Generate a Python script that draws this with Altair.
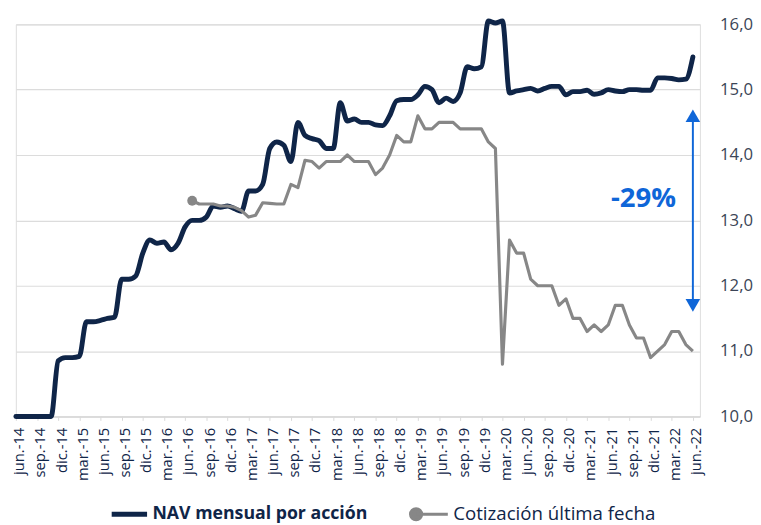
import altair as alt
import pandas as pd

# ---- data ----
month_names = ["ene.", "feb.", "mar.", "abr.", "may.", "jun.", "jul.", "ago.", "sep.", "oct.", "nov.", "dic."]

tick_labels = ["jun.-14", "sep.-14", "dic.-14", "mar.-15", "jun.-15", "sep.-15", "dic.-15",
               "mar.-16", "jun.-16", "sep.-16", "dic.-16", "mar.-17", "jun.-17", "sep.-17",
               "dic.-17", "mar.-18", "jun.-18", "sep.-18", "dic.-18", "mar.-19", "jun.-19",
               "sep.-19", "dic.-19", "mar.-20", "jun.-20", "sep.-20", "dic.-20", "mar.-21",
               "jun.-21", "sep.-21", "dic.-21", "mar.-22", "jun.-22"]

# NAV mensual por acción, jun-14 .. jun-22 (97 months)
nav = [10.0, 10.0, 10.0, 10.0, 10.0, 10.0, 10.85, 10.9, 10.9, 10.92,
       11.45, 11.45, 11.47, 11.5, 11.52, 12.1, 12.1, 12.15, 12.5, 12.7,
       12.65, 12.67, 12.55, 12.65, 12.9, 13.0, 13.0, 13.05, 13.22, 13.2,
       13.22, 13.18, 13.14, 13.45, 13.45, 13.55, 14.1, 14.2, 14.15, 13.9,
       14.5, 14.3, 14.25, 14.22, 14.1, 14.1, 14.8, 14.52, 14.55, 14.5,
       14.5, 14.46, 14.45, 14.6, 14.83, 14.85, 14.85, 14.92, 15.05, 15.0,
       14.8, 14.87, 14.82, 14.95, 15.35, 15.32, 15.35, 16.05, 16.02, 16.05,
       14.95, 14.98, 15.0, 15.02, 14.98, 15.02, 15.05, 15.05, 14.92, 14.97,
       14.97, 14.99, 14.93, 14.95, 15.0, 14.98, 14.97, 15.0, 15.0, 14.99,
       14.99, 15.18, 15.18, 15.17, 15.15, 15.16, 15.5]

# Cotización última fecha, from jul-16 (month index 25) to jun-22
cot_start = 25
cot = [13.3, 13.25, 13.25, 13.25, 13.22, 13.22, 13.2, 13.15, 13.05, 13.08,
       13.27, 13.26, 13.25, 13.25, 13.55, 13.5, 13.92, 13.9, 13.8, 13.9,
       13.9, 13.9, 14.0, 13.9, 13.9, 13.9, 13.7, 13.8, 14.0, 14.3,
       14.2, 14.2, 14.6, 14.4, 14.4, 14.5, 14.5, 14.5, 14.4, 14.4,
       14.4, 14.4, 14.2, 14.1, 10.8, 12.7, 12.5, 12.5, 12.1, 12.0,
       12.0, 12.0, 11.7, 11.8, 11.5, 11.5, 11.3, 11.4, 11.3, 11.4,
       11.7, 11.7, 11.4, 11.2, 11.2, 10.9, 11.0, 11.1, 11.3, 11.3,
       11.1, 11.0]

series_names = ["NAV mensual por acción", "Cotización última fecha"]

arrow_month = "jun.-22"
arrow_top = 14.6
arrow_bottom = 11.7
label_month = "nov.-21"
label_value = 13.32
label_text = "-29%"

# ---- build tables ----
labels = [f"{month_names[(5 + i) % 12]}-{14 + (5 + i) // 12:02d}" for i in range(len(nav) + 1)]
x_domain = labels  # includes one trailing month (jul.-22) as right-hand margin
df_nav = pd.DataFrame({"mes": labels[:len(nav)], "valor": nav, "serie": series_names[0]})
df_cot = pd.DataFrame({"mes": labels[cot_start:cot_start + len(cot)], "valor": cot,
                       "serie": series_names[1]})
df_arrow = pd.DataFrame({"mes": [arrow_month], "top": [arrow_top], "bottom": [arrow_bottom]})
df_label = pd.DataFrame({"mes": [label_month], "valor": [label_value], "txt": [label_text]})

NAVY = "#0f2548"
GREY = "#878787"
BLUE = "#0f66d8"
TEXT = "#3b4556"
FONT = "Open Sans"

x_scale = alt.Scale(type="point", domain=x_domain, padding=0)
x_enc = alt.X("mes:O", scale=x_scale,
              axis=alt.Axis(values=tick_labels, labelAngle=-90, grid=False, ticks=True,
                            tickSize=4, tickColor="#d9d9d9", domainColor="#d9d9d9",
                            domainWidth=1.5, labelColor=NAVY, labelFontSize=15,
                            labelFont=FONT, labelPadding=7, labelOverlap=False,
                            labelOffset=3, labelBound=False, title=None))
y_scale = alt.Scale(domain=[10, 16], nice=False, zero=False)
y_axis = alt.Axis(orient="right", values=[10, 11, 12, 13, 14, 15, 16],
                  labelExpr="replace(format(datum.value, '.1f'), '.', ',')",
                  grid=True, gridColor="#dcdcdc", gridWidth=1.2, domain=False, ticks=False,
                  labelColor=TEXT, labelFontSize=17, labelFont=FONT, labelPadding=20,
                  title=None)

nav_path = "M-1,0L1,0"
cot_path = "M-1,0A0.3,0.3 0 1,0 -0.4,0A0.3,0.3 0 1,0 -1,0ZM-0.7,0L1,0"

nav_line = alt.Chart(df_nav).mark_line(strokeWidth=5, interpolate="monotone",
                                       strokeCap="round", strokeJoin="round", clip=False).encode(
    x=x_enc,
    y=alt.Y("valor:Q", scale=y_scale, axis=y_axis),
    color=alt.Color("serie:N", scale=alt.Scale(domain=[series_names[0]], range=[NAVY]),
                    legend=alt.Legend(orient="none", legendX=95, legendY=478, title=None,
                                      symbolType=nav_path, symbolSize=1296,
                                      symbolStrokeWidth=5, symbolStrokeColor=NAVY,
                                      labelFontWeight="bold", labelFontSize=18, labelLimit=0,
                                      labelFont=FONT, labelColor=NAVY, labelOffset=3)),
)

cot_line = alt.Chart(df_cot).mark_line(strokeWidth=3.2, strokeJoin="round").encode(
    x=alt.X("mes:O", scale=x_scale),
    y="valor:Q",
    color=alt.Color("serie:N", scale=alt.Scale(domain=[series_names[1]], range=[GREY]),
                    legend=alt.Legend(orient="none", legendX=400, legendY=478, title=None,
                                      symbolType=cot_path, symbolSize=1444,
                                      symbolStrokeWidth=3, symbolStrokeColor=GREY,
                                      symbolFillColor=GREY, labelLimit=0,
                                      labelFontSize=19, labelFont=FONT,
                                      labelColor=NAVY, labelOffset=4)),
)

cot_dot = alt.Chart(df_cot.head(1)).mark_circle(size=100, opacity=1).encode(
    x=alt.X("mes:O", scale=x_scale), y="valor:Q", color=alt.value(GREY))

arrow_rule = alt.Chart(df_arrow).mark_rule(strokeWidth=2, color=BLUE).encode(
    x=alt.X("mes:O", scale=x_scale), y="top:Q", y2="bottom:Q")
arrow_up = alt.Chart(df_arrow).mark_point(shape="triangle-up", filled=True, size=220,
                                          opacity=1, color=BLUE).encode(
    x=alt.X("mes:O", scale=x_scale), y="top:Q")
arrow_down = alt.Chart(df_arrow).mark_point(shape="triangle-down", filled=True, size=220,
                                            opacity=1, color=BLUE).encode(
    x=alt.X("mes:O", scale=x_scale), y="bottom:Q")

pct = alt.Chart(df_label).mark_text(fontSize=28, fontWeight="bold", font=FONT, color=BLUE,
                                    align="center", baseline="middle").encode(
    x=alt.X("mes:O", scale=x_scale), y="valor:Q", text="txt:N")

chart = alt.layer(nav_line, cot_line, cot_dot, arrow_rule, arrow_up, arrow_down, pct).resolve_scale(
    color="independent").resolve_legend(color="independent").properties(
    width=696, height=399,
    padding={"left": 4, "top": 3, "right": 0, "bottom": 2},
).configure_view(stroke=None).configure(font=FONT)

chart.save("out.html", embed_options={"renderer": "svg", "actions": False})
